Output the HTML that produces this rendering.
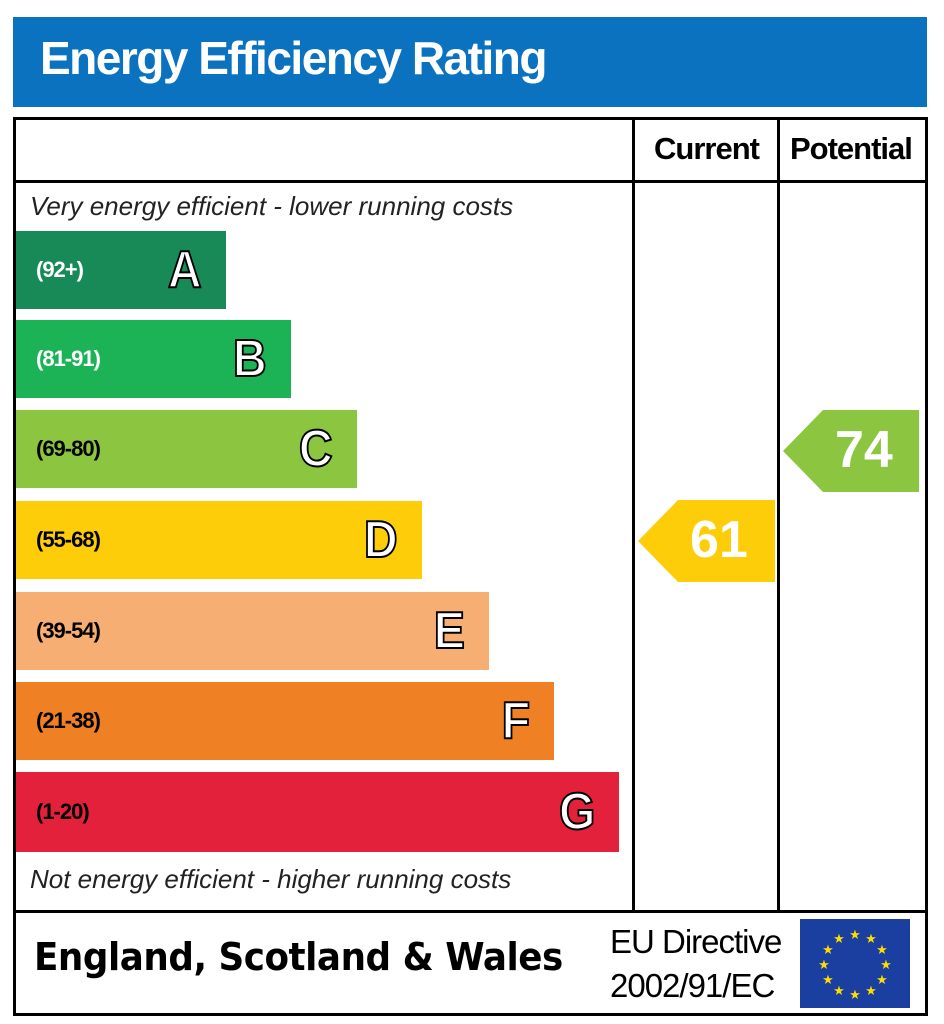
<!DOCTYPE html>
<html><head><style>
body{margin:0;width:944px;height:1024px;background:#fff;position:relative;font-family:"Liberation Sans",sans-serif;overflow:hidden}
.a{position:absolute}
.bar{position:absolute;left:16px;height:78px}
.bar .r{position:absolute;left:20px;top:0;line-height:78px;font-weight:bold;font-size:22px;letter-spacing:-1px}
.bar .l{position:absolute;right:22px;top:0;line-height:78px;font-weight:bold;font-size:52px;color:#fff;-webkit-text-stroke:2px #000;transform:scaleX(0.9)}
</style></head><body>
<div class="a" style="left:13px;top:17px;width:914px;height:90px;background:#0b72c0"></div>
<div class="a" style="left:40px;top:31px;font-size:46px;font-weight:bold;color:#fff;letter-spacing:-1.5px">Energy Efficiency Rating</div>
<div class="a" style="left:13px;top:117px;width:909px;height:893px;border:3px solid #000"></div>
<div class="a" style="left:14px;top:180px;width:912px;height:3px;background:#000"></div>
<div class="a" style="left:14px;top:910px;width:912px;height:3px;background:#000"></div>
<div class="a" style="left:632px;top:118px;width:3px;height:794px;background:#000"></div>
<div class="a" style="left:777px;top:118px;width:3px;height:794px;background:#000"></div>
<div class="a" style="left:654px;top:131px;font-size:31px;font-weight:bold;letter-spacing:-1px">Current</div>
<div class="a" style="left:790px;top:131px;font-size:31px;font-weight:bold;letter-spacing:-1px">Potential</div>
<div class="a" style="left:30px;top:191px;font-size:26px;font-style:italic;color:#222">Very energy efficient - lower running costs</div>
<div class="a" style="left:30px;top:864px;font-size:26px;font-style:italic;color:#222">Not energy efficient - higher running costs</div>
<div class="bar" style="top:231px;width:210px;background:#178a58"><span class="r" style="color:#fff">(92+)</span><span class="l">A</span></div>
<div class="bar" style="top:320px;width:275px;background:#1cb357"><span class="r" style="color:#fff">(81-91)</span><span class="l">B</span></div>
<div class="bar" style="top:410px;width:341px;background:#8cc540"><span class="r">(69-80)</span><span class="l">C</span></div>
<div class="bar" style="top:501px;width:406px;background:#fecd0a"><span class="r">(55-68)</span><span class="l">D</span></div>
<div class="bar" style="top:592px;width:473px;background:#f7ae72"><span class="r">(39-54)</span><span class="l">E</span></div>
<div class="bar" style="top:682px;width:538px;background:#ef8124"><span class="r">(21-38)</span><span class="l">F</span></div>
<div class="bar" style="top:772px;width:603px;height:80px;background:#e3213b"><span class="r" style="line-height:80px">(1-20)</span><span class="l" style="line-height:80px">G</span></div>
<svg class="a" style="left:0;top:0" width="944" height="1024">
<polygon points="638,541 678,500 775,500 775,582 678,582" fill="#fecd0a"/>
<polygon points="783,451 823,410 919,410 919,492 823,492" fill="#8cc540"/>
</svg>
<div class="a" style="left:690px;top:510px;font-size:52px;font-weight:bold;color:#fff">61</div>
<div class="a" style="left:835px;top:420px;font-size:52px;font-weight:bold;color:#fff">74</div>
<div class="a" style="left:34px;top:935px;font-family:'DejaVu Sans',sans-serif;font-size:38px;font-weight:bold;letter-spacing:-0.5px;transform:scaleX(0.94);transform-origin:left top;white-space:nowrap">England, Scotland &amp; Wales</div>
<div class="a" style="left:610px;top:920px;font-size:33px;line-height:44px;letter-spacing:-1px">EU Directive<br>2002/91/EC</div>
<svg class="a" style="left:800px;top:919px" width="110" height="89">
<rect width="110" height="89" fill="#1b3fa0"/>
<g fill="#ffdd00" font-size="13" text-anchor="middle">
<text x="55" y="20">★</text><text x="71" y="24">★</text><text x="82" y="35">★</text><text x="86" y="50">★</text><text x="82" y="65">★</text><text x="71" y="76">★</text><text x="55" y="80">★</text><text x="39" y="76">★</text><text x="28" y="65">★</text><text x="24" y="50">★</text><text x="28" y="35">★</text><text x="39" y="24">★</text>
</g></svg>
</body></html>
